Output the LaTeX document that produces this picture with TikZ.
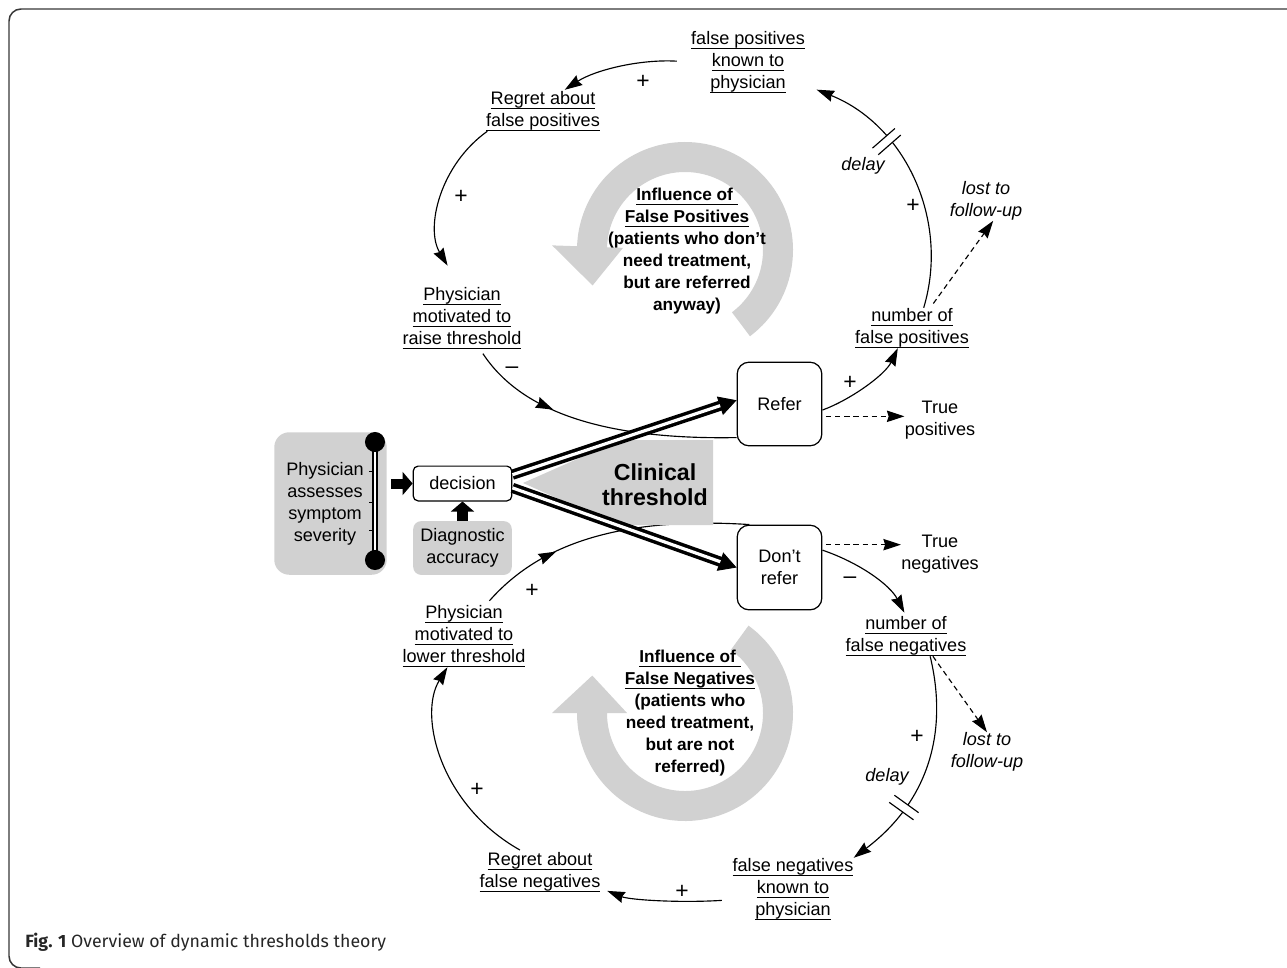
\documentclass[tikz,border=0pt]{standalone}
\usepackage{fontspec}
\setmainfont{Liberation Sans}
\newfontfamily\captionfont{Fira Sans}
\usetikzlibrary{arrows.meta, decorations.markings, positioning}

\definecolor{loopgray}{RGB}{209,209,209}
\definecolor{framegray}{RGB}{55,55,55}
\newsavebox\ulbox
\newcommand{\ul}[1]{\sbox\ulbox{#1}\rlap{\rule[-2.7pt]{\wd\ulbox}{0.65pt}}\usebox\ulbox}

\begin{document}
\begin{tikzpicture}[x=0.02cm, y=-0.02cm,
    txt/.style={align=center, inner sep=0pt, font=\fontsize{10.3}{12.5}\selectfont},
    note/.style={txt, font=\fontsize{10.3}{12.5}\selectfont\itshape},
    sign/.style={txt, font=\fontsize{13}{13}\selectfont},
    loopnote/.style={align=center, inner sep=0pt, font=\fontsize{9.8}{12.5}\selectfont\bfseries},
    choice/.style={txt, draw, line width=0.7pt, rounded corners=6.8pt, minimum width=48.2pt, minimum height=47.6pt},
    graybox/.style={txt, fill=loopgray},
    tipend/.style={-{Stealth[length=10pt, width=6.5pt, inset=1pt]}},
    link/.style={line width=0.65pt, tipend},
    dashlink/.style={line width=0.65pt, dash pattern=on 3pt off 2.2pt, tipend},
    plainlink/.style={line width=0.65pt},
    fatarrow/.style={line width=5.7pt, -{Triangle[length=5.7pt, width=13pt]}},
    midarrow/.style={postaction={decorate}, decoration={markings,
        mark=at position #1 with {\arrow{Stealth[length=10pt, width=6.5pt, inset=1pt]}}}},
    delaymark/.style={postaction={decorate}, decoration={markings,
        mark=at position #1 with {\fill[white] (-2.5pt,-8.5pt) rectangle (2.5pt,8.5pt);
          \draw[line width=0.65pt, -, solid, shorten >=0pt, shorten <=0pt]
            (-2.5pt,-8.5pt) -- (-2.5pt,8.5pt) (2.5pt,-8.5pt) -- (2.5pt,8.5pt);}}}
  ]
  \useasboundingbox (0,0) rectangle (1287,967);

  % Frame
  \draw[framegray, line width=0.85pt, rounded corners=6.8pt] (1300,9) -- (9,9) -- (9,968) -- (40,968);

  % Loop arrows
  \begin{scope}[shift={(685,250)}]
    \fill[loopgray] (53:108) arc[start angle=53, end angle=-178, radius=108]
      -- (-178:133) -- (-201:99) -- (-178:62) -- (-178:78)
      arc[start angle=-178, end angle=53, radius=78] -- cycle;
  \end{scope}
  \begin{scope}[shift={(685,713)}]
    \fill[loopgray] (-54:108) arc[start angle=-54, end angle=180, radius=108]
      -- (180:133) -- (202:100) -- (180:58) -- (180:78)
      arc[start angle=180, end angle=-54, radius=78] -- cycle;
  \end{scope}

  % Nodes
  \node[txt] (knownFP) at (748,62) {\ul{false positives}\\\ul{known to}\\\ul{physician}};
  \node[txt] (regretFP) at (543,111) {\ul{Regret about}\\\ul{false positives}};
  \node[txt] (raise) at (462,318) {\ul{Physician}\\\ul{motivated to}\\\ul{raise threshold}};
  \node[graybox, minimum width=64pt, minimum height=81.1pt, rounded corners=8.5pt] (assess) at (330.5,503.5) {};
  \node[txt] (assessText) at (325,504) {Physician\\assesses\\symptom\\severity};
  \node[txt, draw, fill=white, line width=0.7pt, rounded corners=2.8pt, minimum width=56.1pt, minimum height=19.8pt] (decision) at (462.5,483.5) {decision};
  \node[graybox, minimum width=56.1pt, minimum height=30.6pt, rounded corners=4.5pt] (diag) at (462.5,548) {Diagnostic\\accuracy};
  \node[choice] (refer) at (779.5,404) {Refer};
  \node[choice, minimum height=48.2pt] (dontrefer) at (779.5,567.5) {Don’t\\refer};
  \node[txt] (truePos) at (940,420) {True\\positives};
  \node[txt] (trueNeg) at (940,554) {True\\negatives};
  \node[txt] (numFP) at (912,328) {\ul{number of}\\\ul{false positives}};
  \node[txt] (numFN) at (906,636) {\ul{number of}\\\ul{false negatives}};
  \node[note] (lostFP) at (986,201) {lost to\\follow-up};
  \node[note] (lostFN) at (987,752) {lost to\\follow-up};
  \node[note] (delayFP) at (863,166) {delay};
  \node[note] (delayFN) at (887,777) {delay};
  \node[txt] (knownFN) at (793,889) {\ul{false negatives}\\\ul{known to}\\\ul{physician}};
  \node[txt] (regretFN) at (540,872) {\ul{Regret about}\\\ul{false negatives}};
  \node[txt] (lower) at (464,636) {\ul{Physician}\\\ul{motivated to}\\\ul{lower threshold}};
  \node[loopnote] (loopFP) at (687,251) {\ul{Influence of\ }\\\ul{False Positives}\\(patients who don’t\\need treatment,\\but are referred\\anyway)};
  \node[loopnote] (loopFN) at (690,713) {\ul{Influence of\ }\\\ul{False Negatives}\\(patients who\\need treatment,\\but are not\\referred)};

  % Signs
  \node[sign] (s1) at (643,82) {+};
  \node[sign] (s2) at (461,197) {+};
  \node[sign] (s3) at (512,370) {\textendash};
  \node[sign] (s4) at (850,383) {+};
  \node[sign] (s5) at (913,206) {+};
  \node[sign] (s6) at (850,580) {\textendash};
  \node[sign] (s7) at (917,737) {+};
  \node[sign] (s8) at (682,892) {+};
  \node[sign] (s9) at (477,790) {+};
  \node[sign] (s10) at (532,591) {+};

  % Edges
  \draw[link, shorten <=8pt, shorten >=1pt] (knownFP.west) .. controls (640,59) and (595,70) .. (regretFP.45);
  \draw[link, shorten >=14pt] (regretFP.-160) .. controls (440,165) and (425,228) .. ([xshift=-1pt]raise.north);
  \draw[plainlink, midarrow=0.34, shorten <=3pt] (raise.-60) .. controls (520,410) and (600,440) .. (refer.218);
  \draw[plainlink, midarrow=0.31, shorten <=3pt] (lower.55) .. controls (530,555) and (600,515) .. (dontrefer.125);
  \draw[link] (refer.-8) .. controls (850,400) and (885,375) .. (numFP.-125);
  \draw[link, delaymark=0.64, shorten >=7pt] (numFP.60) .. controls (950,220) and (905,125) .. (knownFP.-22);
  \draw[dashlink, shorten <=3pt] (numFP.48) -- (lostFP.-70);
  \draw[dashlink, shorten <=2pt] (refer.-16) -- (refer.-16 -| truePos.west);
  \draw[dashlink, shorten <=2pt] (dontrefer.28) -- (dontrefer.28 -| trueNeg.west);
  \draw[link, shorten >=2pt] (dontrefer.22) .. controls (860,563) and (890,585) .. (numFN.north);
  \draw[link, delaymark=0.69] (numFN.-40) .. controls (948,730) and (930,800) .. (knownFN.north east);
  \draw[dashlink] (numFN.-37) -- (lostFN.north);
  \draw[link, shorten <=6pt, shorten >=4pt] (knownFN.190) .. controls (680,903) and (630,900) .. (regretFN.-15);
  \draw[link, shorten <=2pt] (regretFN.130) .. controls (440,805) and (418,715) .. (lower.-118);

  % Threshold
  \fill[loopgray] (523,483) -- (620,440) -- (713,440) -- (713,525) -- (617,525) -- cycle;
  \node[txt, font=\fontsize{13.2}{14.2}\selectfont\bfseries] (clinical) at (655,485) {Clinical\\threshold};
  \foreach \from/\to in {decision.10/refer.175, decision.-5/dontrefer.west}{
    \draw[line width=0.5pt, -{Triangle[length=10pt, width=11pt]}] (\from) -- (\to);
    \draw[line width=2pt, double=white, double distance=1.8pt, shorten >=9.8pt] (\from) -- (\to);
  }

  % Inputs
  \draw[fatarrow, shorten <=2.3pt] (assess.east |- decision.west) -- (decision.west);
  \draw[fatarrow, line width=6.5pt] (diag.north) -- (decision.south);
  \draw[line width=1.3pt, double=white, double distance=1.3pt] (375,442) -- (375,560);
  \fill (375,442) circle (5.7pt);
  \fill (375,560) circle (5.7pt);
  \foreach \ty in {471,502,530}
    \draw[line width=0.5pt] (369,\ty) -- (373,\ty);

  % Caption
  \node[anchor=base west, inner sep=0pt, text=black!85, font=\captionfont\fontsize{10.1}{12}\selectfont] (caption) at (25,947) {\textbf{Fig. 1} Overview of dynamic thresholds theory};
\end{tikzpicture}
\end{document}
